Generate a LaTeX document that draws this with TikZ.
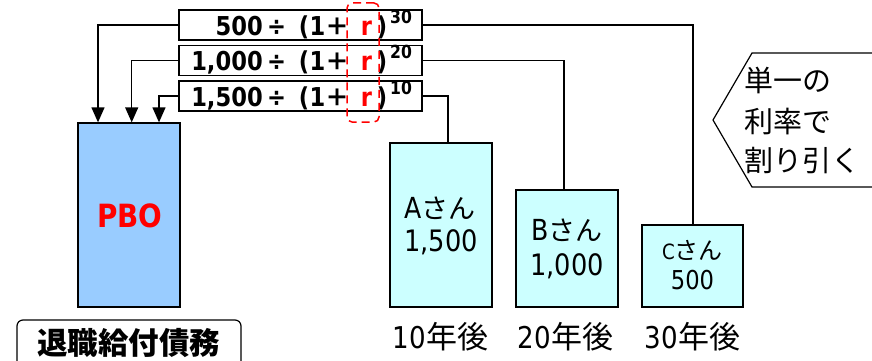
\documentclass[tikz,border=0pt]{standalone}
\usepackage{fontspec}
\setmainfont{DejaVu Sans}
\newfontfamily\lat{DejaVu Sans}[FakeStretch=0.87]
\newfontfamily\jp{Noto Sans CJK JP}
\usetikzlibrary{arrows.meta,calc}
\definecolor{pbo}{HTML}{99CCFF}
\definecolor{cyanbox}{HTML}{CCFFFF}
\definecolor{rd}{HTML}{FF0000}
\newcommand\formularow[4]{%
  \node[ft, anchor=base east] (#1n) at (263,#2) {#3};
  \node[ft] (#1d) at (276.5,#2) {÷};
  \node[ft] (#1l) at (304,#2) {(};
  \node[ft] (#1o) at (317.5,#2) {1};
  \node[ft, font=\jp\bfseries\fontsize{24}{24}\selectfont] (#1p) at (337,#2) {＋};
  \node[ft, text=rd] (#1r) at (366.5,#2) {r};
  \node[ft] (#1c) at (382,#2) {)};
  \node[ft, anchor=base west, font=\lat\bfseries\fontsize{18}{18}\selectfont] (#1s) at (390,#2-12) {#4};
}
\begin{document}
\begin{tikzpicture}[x=1pt,y=-1pt,
  fbox/.style={draw, line width=1.3pt, minimum width=243pt, minimum height=30pt, inner sep=0pt, fill=white},
  ft/.style={inner sep=0pt, anchor=base, font=\lat\bfseries\fontsize{26}{26}\selectfont},
  conn/.style={line width=1.3pt},
  arr/.style={conn, -{Triangle[width=13pt,length=15pt]}},
  person/.style={draw, line width=1.3pt, fill=cyanbox, inner sep=0pt},
  lbl/.style={inner sep=0pt, anchor=base},
  big/.style={lbl, font=\lat\fontsize{29.5}{29.5}\selectfont},
]
\useasboundingbox (0,0) rectangle (872,361);

% PBO box
\node[draw, line width=1.3pt, fill=pbo, minimum width=102pt, minimum height=184pt, inner sep=0pt] (P) at (129,215) {};
\node[lbl, text=rd, font=\lat\bfseries\fontsize{32}{32}\selectfont] (Pt) at (130,227) {PBO};

% formula boxes
\node[fbox] (f1) at (300.5,25) {};
\node[fbox] (f2) at (300.5,60.5) {};
\node[fbox] (f3) at (300.5,96) {};
\formularow{g1}{35.5}{500}{30}
\formularow{g2}{70.5}{1,000}{20}
\formularow{g3}{106}{1,500}{10}

% red dashed box around r
\node[draw=rd, dash pattern=on 8pt off 5pt, rounded corners=5pt, line width=1.5pt, minimum width=32pt, minimum height=119pt, inner sep=0pt] (R) at (363,62.5) {};

% person boxes
\node[person, minimum width=102pt, minimum height=164pt] (A) at (441,225) {};
\node[person, minimum width=102pt, minimum height=117pt] (B) at (567,248.5) {};
\node[person, minimum width=101pt, minimum height=82pt] (C) at (692.5,266) {};

\node[lbl] (At) at (440,218) {{\lat\fontsize{29}{29}\selectfont A}{\jp\fontsize{27}{27}\selectfont さん}};
\node[big] (Av) at (441,251) {1,500};
\node[lbl] (Bt) at (567,240) {{\lat\fontsize{29}{29}\selectfont B}{\jp\fontsize{27}{27}\selectfont さん}};
\node[big] (Bv) at (567,275) {1,000};
\node[lbl] (Ct) at (692.5,259) {{\lat\fontsize{21}{21}\selectfont C}{\jp\fontsize{24}{24}\selectfont さん}};
\node[lbl, font=\lat\fontsize{26}{26}\selectfont] (Cv) at (692.5,289) {500};

% bottom year labels
\node[lbl] (Y1) at (440.5,348) {{\lat\fontsize{30}{30}\selectfont 10}{\jp\fontsize{31}{31}\selectfont 年後}};
\node[lbl] (Y2) at (565.5,348) {{\lat\fontsize{30}{30}\selectfont 20}{\jp\fontsize{31}{31}\selectfont 年後}};
\node[lbl] (Y3) at (692.5,348) {{\lat\fontsize{30}{30}\selectfont 30}{\jp\fontsize{31}{31}\selectfont 年後}};

% label under PBO
\node[draw, line width=1.2pt, rounded corners=6pt, minimum width=224pt, minimum height=60pt, inner sep=0pt] (L) at (129,350) {};
\node[lbl, font=\jp\bfseries\fontsize{30.5}{30.5}\selectfont] (Lt) at (128.5,354.5) {退職給付債務};

% callout
\draw[line width=1.2pt, fill=white] (890,53) -- (752,53) -- (713,120) -- (752,187) -- (890,187);
\node[lbl, anchor=base west, font=\jp\fontsize{29}{29}\selectfont] (K1) at (744,91) {単一の};
\node[lbl, anchor=base west, font=\jp\fontsize{29}{29}\selectfont] (K2) at (744,132) {利率で};
\node[lbl, anchor=base west, font=\jp\fontsize{29}{29}\selectfont] (K3) at (744,171) {割り引く};

% connectors
\draw[arr] (f1.west) -| ([xshift=-31pt]P.north);
\draw[arr] (f2.west) -| ([xshift=2.7pt]P.north);
\draw[arr] (f3.west) -| ([xshift=30pt]P.north);
\draw[conn] (f3.east) -| ([xshift=7pt]A.north);
\draw[conn] (f2.east) -| ([xshift=-3pt]B.north);
\draw[conn] (f1.east) -| ([xshift=0.5pt]C.north);
\end{tikzpicture}
\end{document}
